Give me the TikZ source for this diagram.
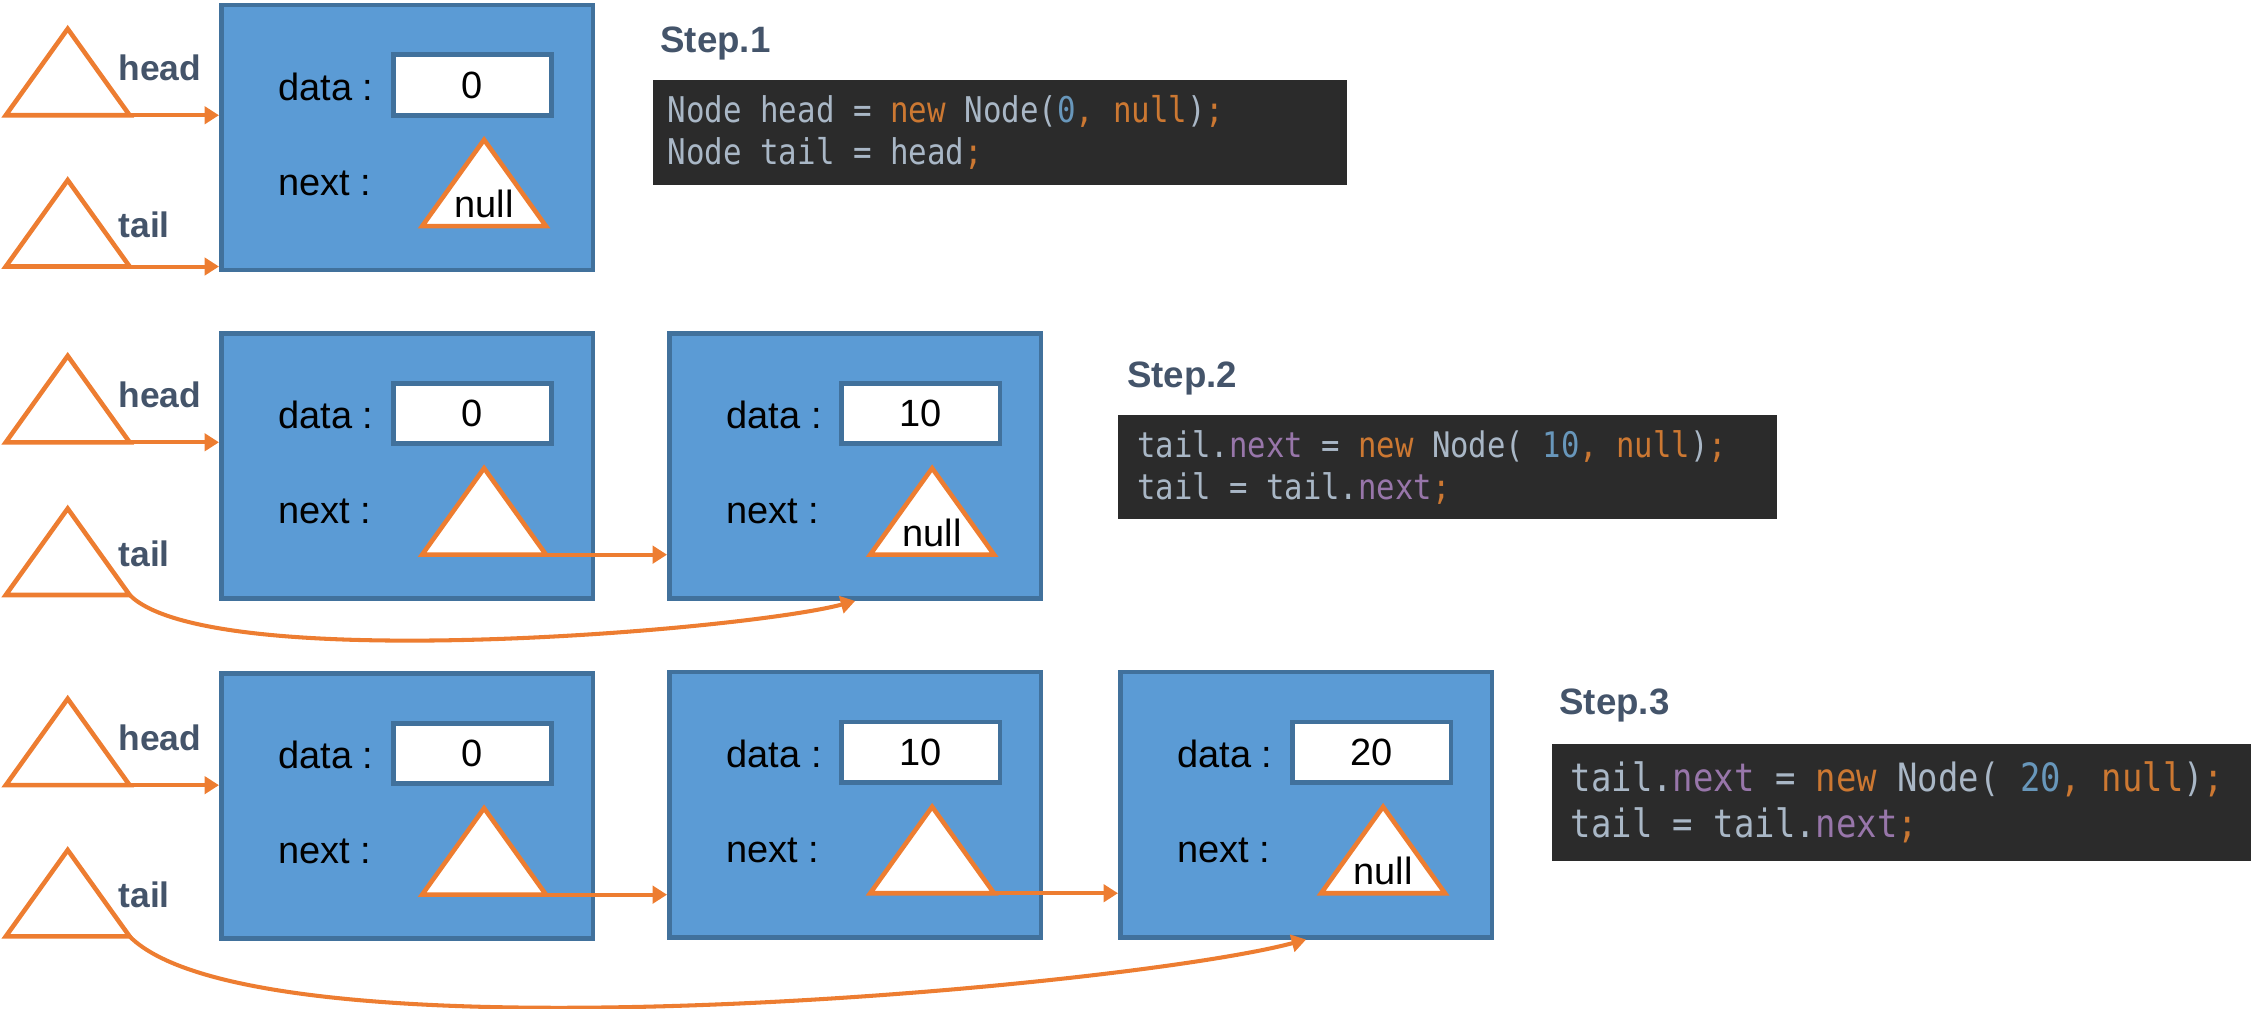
\documentclass[tikz,border=0pt]{standalone}
\usepackage{fontspec}
\setmainfont{Liberation Sans}
\newfontfamily\codefont[FakeStretch=0.87]{DejaVu Sans Mono}
\usetikzlibrary{positioning,shapes.geometric,arrows.meta,calc}

\definecolor{cellfill}{HTML}{5B9BD5}
\definecolor{cellline}{HTML}{41719C}
\definecolor{ptrorange}{HTML}{ED7D31}
\definecolor{labelgray}{HTML}{44546A}
\definecolor{codebg}{HTML}{2B2B2B}
\definecolor{codefg}{HTML}{A9B7C6}
\definecolor{codekw}{HTML}{CC7832}
\definecolor{codenum}{HTML}{6897BB}
\definecolor{codefld}{HTML}{9876AA}

\newcommand{\kw}[1]{\textcolor{codekw}{#1}}
\newcommand{\nm}[1]{\textcolor{codenum}{#1}}
\newcommand{\fld}[1]{\textcolor{codefld}{#1}}
\newcommand{\codespc}{\spaceskip=0.524em\relax}

% one list cell: name, x, y of top left corner, data value
\newcommand{\listcell}[4]{%
  \node[cellbox] (#1) at (#2,#3) {};
  \node[keytext] (#1-dk) at ($(#1.north west)+(41,58)$) {data :};
  \node[valbox] (#1-dv) at ($(#1.north west)+(176,57)$) {#4};
  \node[keytext] (#1-nk) at ($(#1.north west)+(41,125)$) {next :};
  \node[ptrtri] (#1-np) at ($(#1.north west)+(184,155)$) {};
}

\begin{document}
\begin{tikzpicture}[x=0.02cm, y=-0.02cm,
  cellbox/.style={draw=cellline, fill=cellfill, line width=1.8pt, minimum width=5.16cm,
    minimum height=3.68cm, anchor=north west, inner sep=0},
  keytext/.style={anchor=west, inner sep=0, font=\fontsize{15pt}{18pt}\selectfont},
  valbox/.style={draw=cellline, fill=white, line width=1.8pt, minimum width=2.2cm,
    minimum height=0.84cm, inner sep=0, font=\fontsize{15pt}{18pt}\selectfont},
  ptrtri/.style={isosceles triangle, isosceles triangle stretches, shape border rotate=90,
    draw=ptrorange, fill=white, line width=1.8pt, minimum width=1.72cm, minimum height=1.2cm,
    inner sep=0, outer sep=0, anchor=south},
  nulltext/.style={anchor=base, inner sep=0, font=\fontsize{15pt}{18pt}\selectfont},
  ptrlabel/.style={anchor=base west, inner sep=0, text=labelgray,
    font=\bfseries\fontsize{14pt}{17pt}\selectfont},
  steptext/.style={anchor=west, inner sep=0, text=labelgray,
    font=\bfseries\fontsize{14.5pt}{17pt}\selectfont},
  codebox/.style={fill=codebg, anchor=north west, align=left, inner ysep=0, text=codefg},
  link/.style={draw=ptrorange, line width=1.6pt, -{Triangle[length=0.2cm, width=0.24cm]}}]
\useasboundingbox (0,0) rectangle (1568,700);

% step 1
\listcell{b1}{152}{2}{0}
\node[nulltext] (b1-nl) at ([yshift=0.12cm]b1-np.south) {null};
\node[ptrtri] (h1) at (47,80) {};
\node[ptrtri] (t1) at (47,185) {};
\node[ptrlabel] (h1-l) at ([xshift=-0.16cm, yshift=0.48cm]h1.right corner) {head};
\node[ptrlabel] (t1-l) at ([xshift=-0.16cm, yshift=0.40cm]t1.right corner) {tail};
\draw[link] (h1.right corner) -- (h1.right corner -| b1.west);
\draw[link] (t1.right corner) -- (t1.right corner -| b1.west);
\node[steptext] (s1) at (458,30) {Step.1};
\node[codebox, text width=9.24cm, inner xsep=0.2cm, minimum height=1.46cm,
  font=\codefont\fontsize{14pt}{16.8pt}\selectfont] (c1) at (453,55)
  {\codespc Node head = \kw{new} Node(\nm{0}\kw{, null})\kw{;}\\
   Node tail = head\kw{;}};

% step 2
\listcell{b2a}{152}{230}{0}
\listcell{b2b}{463}{230}{10}
\node[nulltext] (b2b-nl) at ([yshift=0.12cm]b2b-np.south) {null};
\node[ptrtri] (h2) at (47,307) {};
\node[ptrtri] (t2) at (47,413) {};
\node[ptrlabel] (h2-l) at ([xshift=-0.16cm, yshift=0.48cm]h2.right corner) {head};
\node[ptrlabel] (t2-l) at ([xshift=-0.16cm, yshift=0.40cm]t2.right corner) {tail};
\draw[link] (h2.right corner) -- (h2.right corner -| b2a.west);
\draw[link] (b2a-np.right corner) -- (b2a-np.right corner -| b2b.west);
\draw[link] (t2.right corner) to[out=-45, in=195, looseness=0.4] (b2b.south);
\node[steptext] (s2) at (782,263) {Step.2};
\node[codebox, text width=8.62cm, inner xsep=0.26cm, minimum height=1.44cm,
  font=\codefont\fontsize{13.9pt}{16.6pt}\selectfont] (c2) at (776,288)
  {\codespc tail.\fld{next} = \kw{new} Node( \nm{10}\kw{, null})\kw{;}\\
   tail = tail.\fld{next}\kw{;}};

% step 3
\listcell{b3a}{152}{466}{0}
\listcell{b3b}{463}{465}{10}
\listcell{b3c}{776}{465}{20}
\node[nulltext] (b3c-nl) at ([yshift=0.12cm]b3c-np.south) {null};
\node[ptrtri] (h3) at (47,545) {};
\node[ptrtri] (t3) at (47,650) {};
\node[ptrlabel] (h3-l) at ([xshift=-0.16cm, yshift=0.48cm]h3.right corner) {head};
\node[ptrlabel] (t3-l) at ([xshift=-0.16cm, yshift=0.40cm]t3.right corner) {tail};
\draw[link] (h3.right corner) -- (h3.right corner -| b3a.west);
\draw[link] (b3a-np.right corner) -- (b3a-np.right corner -| b3b.west);
\draw[link] (b3b-np.right corner) -- (b3b-np.right corner -| b3c.west);
\draw[link] (t3.right corner) to[out=-45, in=195, looseness=0.4] (b3c.south);
\node[steptext] (s3) at (1082,490) {Step.3};
\node[codebox, text width=9.18cm, inner xsep=0.26cm, minimum height=1.62cm,
  font=\codefont\fontsize{15.4pt}{18.4pt}\selectfont] (c3) at (1077,516)
  {\codespc tail.\fld{next} = \kw{new} Node( \nm{20}\kw{, null})\kw{;}\\
   tail = tail.\fld{next}\kw{;}};
\end{tikzpicture}
\end{document}
